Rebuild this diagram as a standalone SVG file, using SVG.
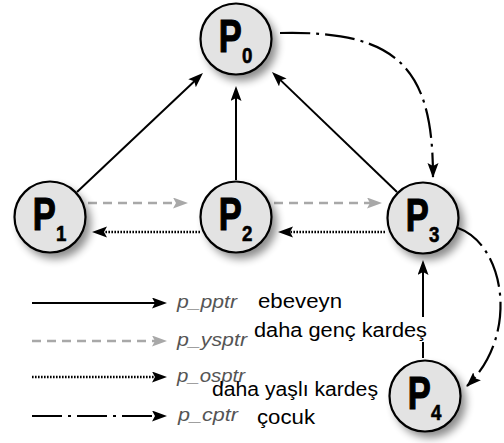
<svg xmlns="http://www.w3.org/2000/svg" width="504" height="443" viewBox="0 0 504 443">
  <defs>
    <filter id="soft" x="-40%" y="-40%" width="180%" height="180%">
      <feGaussianBlur stdDeviation="4"/>
    </filter>
    <marker id="ah" markerUnits="userSpaceOnUse" markerWidth="16" markerHeight="12" refX="5" refY="5.5" orient="auto">
      <path d="M0,0 L15,5.5 L0,11 L3,5.5 Z" fill="#000"/>
    </marker>
    <marker id="ahg" markerUnits="userSpaceOnUse" markerWidth="16" markerHeight="12" refX="5" refY="5.5" orient="auto">
      <path d="M0,0 L15,5.5 L0,11 L3,5.5 Z" fill="#a8a8a8"/>
    </marker>
    <marker id="aht" markerUnits="userSpaceOnUse" markerWidth="16" markerHeight="12" refX="14" refY="5.5" orient="auto">
      <path d="M0,0 L15,5.5 L0,11 L3,5.5 Z" fill="#000"/>
    </marker>
    <g id="proc">
      <circle cx="5" cy="6" r="36" fill="#000" opacity="0.45" filter="url(#soft)"/>
      <circle r="35.5" fill="#e3e3e3" stroke="#000" stroke-width="2.2"/>
    </g>
  </defs>
  <style>
    .parent { stroke: #000; stroke-width: 2; fill: none; marker-end: url(#ah); }
    .young { stroke: #a8a8a8; stroke-width: 2.5; fill: none; stroke-dasharray: 9 6; marker-end: url(#ahg); }
    .old { stroke: #000; stroke-width: 2.5; fill: none; stroke-dasharray: 1.6 1.4; marker-end: url(#ah); }
    .child { stroke: #000; stroke-width: 2.2; fill: none; stroke-dasharray: 30 6 3 6; }
    .child-end { marker-end: url(#aht); }
    .big { font-family: "Liberation Sans", Arial, sans-serif; font-weight: bold; font-size: 46px; fill: #000; stroke: #000; stroke-width: 1.2; }
    .sub { font-family: "Liberation Sans", Arial, sans-serif; font-weight: bold; font-size: 22px; fill: #000; stroke: #000; stroke-width: 0.6; }
    .key { font-family: "Liberation Sans", Arial, sans-serif; font-style: italic; font-size: 19px; fill: #555; }
    .tr { font-family: "Liberation Sans", Arial, sans-serif; font-size: 20px; fill: #000; }
  </style>

  <rect width="504" height="443" fill="#fff"/>

  <!-- connectors between process nodes -->
  <g id="connectors">
    <!-- parent pointers -->
    <line class="parent" x1="77" y1="192" x2="195.7" y2="79.9"/>
    <line class="parent" x1="236" y1="180" x2="236" y2="96"/>
    <line class="parent" x1="397" y1="192" x2="279.2" y2="78.9"/>
    <line class="parent" x1="423" y1="358" x2="423" y2="270"/>
    <!-- younger sibling pointers -->
    <line class="young" x1="88" y1="203" x2="178" y2="203"/>
    <line class="young" x1="274" y1="203" x2="372" y2="203"/>
    <!-- older sibling pointers -->
    <line class="old" x1="385" y1="232" x2="288" y2="232"/>
    <line class="old" x1="200" y1="232" x2="102" y2="232"/>
    <!-- child pointers -->
    <path class="child child-end" d="M280,33 C400,30 433,70 433,177"/>
    <path class="child child-end" d="M458,228 C505,245 520,335 467,386"/>
  </g>

  <!-- process nodes -->
  <g id="p0" transform="translate(236,39)">
    <use href="#proc"/>
    <text class="big" transform="scale(0.75,1)" x="-23" y="13">P</text>
    <text class="sub" transform="scale(0.85,1)" x="7" y="24">0</text>
  </g>
  <g id="p1" transform="translate(50,217)">
    <use href="#proc"/>
    <text class="big" transform="scale(0.75,1)" x="-23" y="13">P</text>
    <text class="sub" transform="scale(0.85,1)" x="7" y="24">1</text>
  </g>
  <g id="p2" transform="translate(236,217)">
    <use href="#proc"/>
    <text class="big" transform="scale(0.75,1)" x="-23" y="13">P</text>
    <text class="sub" transform="scale(0.85,1)" x="7" y="24">2</text>
  </g>
  <g id="p3" transform="translate(423,218)">
    <use href="#proc"/>
    <text class="big" transform="scale(0.75,1)" x="-23" y="13">P</text>
    <text class="sub" transform="scale(0.85,1)" x="7" y="24">3</text>
  </g>
  <g id="p4" transform="translate(425,396)">
    <use href="#proc"/>
    <text class="big" transform="scale(0.75,1)" x="-23" y="13">P</text>
    <text class="sub" transform="scale(0.85,1)" x="7" y="24">4</text>
  </g>

  <!-- legend -->
  <g id="legend">
    <line class="parent" x1="32" y1="303" x2="157" y2="303"/>
    <line class="young" x1="32" y1="341" x2="157" y2="341"/>
    <line class="old" x1="32" y1="377" x2="157" y2="377"/>
    <line class="child" x1="32" y1="416" x2="157" y2="416" style="marker-end:url(#ah)"/>
    <text class="key" x="177" y="308" textLength="60" lengthAdjust="spacingAndGlyphs">p_pptr</text>
    <text class="key" x="177" y="346" textLength="70" lengthAdjust="spacingAndGlyphs">p_ysptr</text>
    <text class="key" x="177" y="382" textLength="68" lengthAdjust="spacingAndGlyphs">p_osptr</text>
    <text class="key" x="178" y="421" textLength="60" lengthAdjust="spacingAndGlyphs">p_cptr</text>
    <text class="tr" x="258" y="308" textLength="84" lengthAdjust="spacingAndGlyphs">ebeveyn</text>
    <rect x="252" y="317" width="180" height="25" fill="#fff"/>
    <text class="tr" x="254" y="337" textLength="173" lengthAdjust="spacingAndGlyphs">daha genç kardeş</text>
    <text class="tr" x="212" y="396" textLength="166" lengthAdjust="spacingAndGlyphs">daha yaşlı kardeş</text>
    <text class="tr" x="257" y="424" textLength="58" lengthAdjust="spacingAndGlyphs">çocuk</text>
  </g>
</svg>
